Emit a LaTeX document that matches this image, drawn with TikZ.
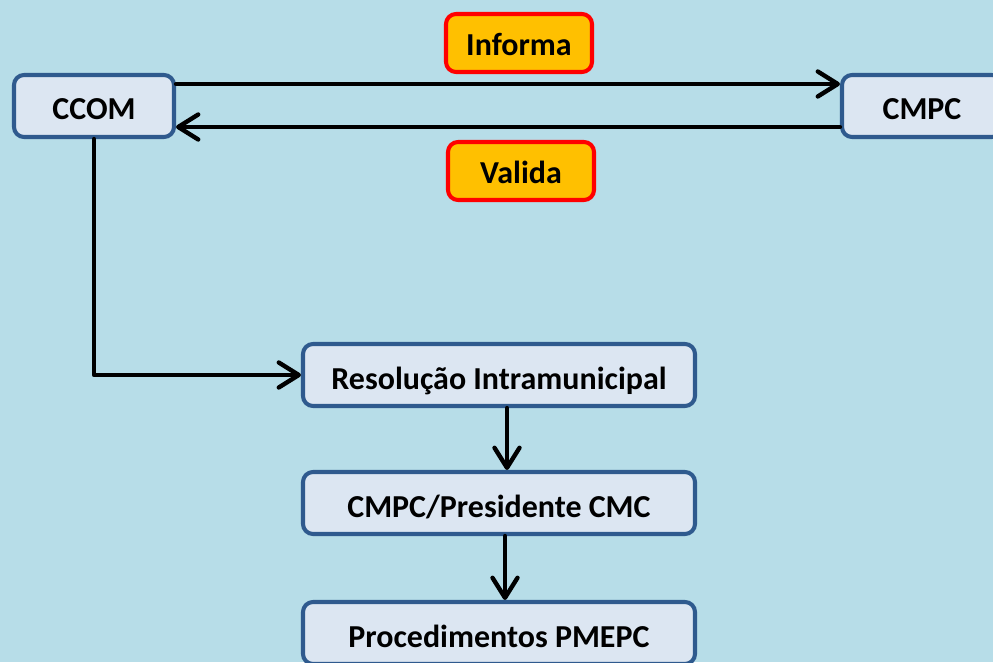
\documentclass[tikz,border=0pt]{standalone}
\usepackage{fontspec}
\setmainfont{Carlito}
\usetikzlibrary{arrows.meta}
\definecolor{fundo}{HTML}{B7DDE8}
\definecolor{caixafill}{HTML}{DCE6F2}
\definecolor{caixaborda}{HTML}{2F5A8E}
\definecolor{laranja}{HTML}{FFC000}
\begin{document}
\begin{tikzpicture}[font=\fontsize{18.2}{21}\selectfont\bfseries, line join=round, line cap=round,
	caixa/.style={draw=caixaborda, fill=caixafill, line width=2.3pt, rounded corners=0.2cm, minimum height=1.24cm, inner sep=0pt, text height=0.56cm, text depth=0cm},
	rotulo/.style={draw=red, fill=laranja, line width=2.3pt, rounded corners=0.2cm, minimum width=2.92cm, minimum height=1.16cm, inner sep=0pt, text height=0.52cm, text depth=0cm},
	seta/.style={line width=2.5pt, -{Straight Barb[round,length=4mm,width=5mm]}}]
	\fill[fundo] (0,0) rectangle (19.86,13.24);
	\useasboundingbox (0,0) rectangle (19.86,13.24);
	\node[caixa, minimum width=3.2cm] (ccom) at (1.88,11.12) {CCOM};
	\node[caixa, minimum width=3.2cm] (cmpc) at (18.44,11.12) {CMPC};
	\node[rotulo] (informa) at (10.38,12.38) {Informa};
	\node[rotulo] (valida) at (10.42,9.82) {Valida};
	\node[caixa, minimum width=7.84cm] (resolucao) at (9.98,5.74) {Resolução Intramunicipal};
	\node[caixa, minimum width=7.84cm] (presidente) at (9.98,3.18) {CMPC/Presidente CMC};
	\node[caixa, minimum width=7.84cm] (procedimentos) at (9.98,0.58) {Procedimentos PMEPC};
	\draw[seta] ([yshift=0.44cm]ccom.east) -- ([yshift=0.44cm]cmpc.west);
	\draw[seta] ([yshift=-0.42cm]cmpc.west) -- ([yshift=-0.42cm]ccom.east);
	\draw[seta] (ccom.south) |- (resolucao.west);
	\draw[seta] ([xshift=0.16cm]resolucao.south) -- ([xshift=0.16cm]presidente.north);
	\draw[seta] ([xshift=0.12cm]presidente.south) -- ([xshift=0.12cm]procedimentos.north);
\end{tikzpicture}
\end{document}
